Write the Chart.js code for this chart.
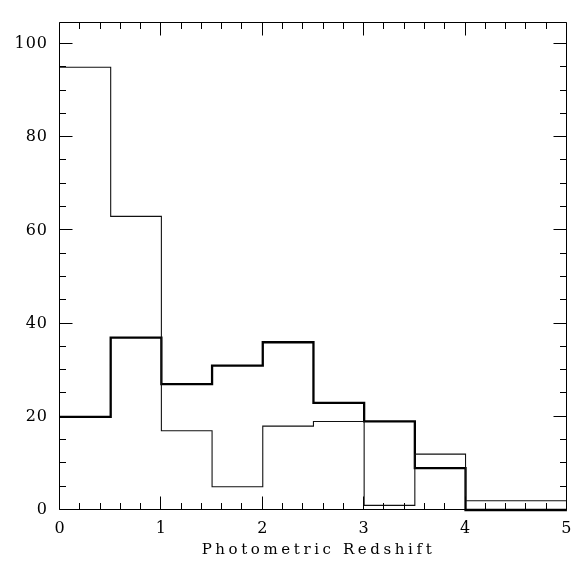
<!DOCTYPE html>
<html><head><meta charset="utf-8">
<script src="https://cdn.jsdelivr.net/npm/chart.js@4"></script>
<style>html,body{margin:0;padding:0;background:#fff}#wrap{width:581px;height:565px}</style>
</head><body><div id="wrap"><canvas id="c" width="581" height="565"></canvas></div>
<script>
const binEdges = [0, 0.5, 1, 1.5, 2, 2.5, 3, 3.5, 4, 4.5, 5];
const thinCounts = [95, 63, 17, 5, 18, 19, 1, 12, 2, 2];
const thickCounts = [20, 37, 27, 31, 36, 23, 19, 9, 0, 0];
const xTickLabels = ['0', '1', '2', '3', '4', '5'];
const yTickLabels = ['0', '20', '40', '60', '80', '100'];
const xAxisTitle = 'Photometric Redshift';

function stepPoints(counts) {
  return binEdges.map((e, i) => ({ x: e, y: counts[Math.min(i, counts.length - 1)] }));
}

const framePlugin = {
  id: 'frame',
  beforeDraw(chart) { chart.ctx.letterSpacing = '1px'; },
  afterDatasetsDraw(chart) {
    const { ctx, chartArea: a, scales: { x, y } } = chart;
    ctx.save();
    ctx.strokeStyle = '#000';
    ctx.lineWidth = 1;
    const L = Math.round(a.left) - 0.5, R = Math.round(a.right) - 0.5;
    const T = Math.round(a.top) + 0.5, B = Math.round(a.bottom) - 0.5;
    ctx.beginPath();
    ctx.rect(L, T, R - L, B - T);
    for (let k = 0; k <= 25; k++) {
      const v = k * 0.2;
      const px = Math.round(x.getPixelForValue(v)) - 0.5;
      const len = (k % 5 === 0) ? 13 : 6.5;
      ctx.moveTo(px, B); ctx.lineTo(px, B - len);
      ctx.moveTo(px, T); ctx.lineTo(px, T + len);
    }
    for (let k = 0; k <= 20; k++) {
      const v = k * 5;
      const py = Math.round(y.getPixelForValue(v)) - 0.5;
      const len = (k % 4 === 0) ? 13 : 6.5;
      ctx.moveTo(L, py); ctx.lineTo(L + len, py);
      ctx.moveTo(R, py); ctx.lineTo(R - len, py);
    }
    ctx.stroke();
    ctx.restore();
  }
};

function wrapTitle(s) {
  if (s._titleWrapped) return;
  const orig = s.drawTitle.bind(s);
  s.drawTitle = function () {
    const c = this.ctx;
    c.save();
    c.letterSpacing = '3.6px';
    c.translate(5, 0);
    orig();
    c.restore();
  };
  s._titleWrapped = true;
}

new Chart(document.getElementById('c'), {
  type: 'line',
  data: {
    datasets: [
      { label: 'thin', data: stepPoints(thinCounts), stepped: true, borderColor: '#111', borderWidth: 1.1, pointRadius: 0, fill: false, clip: 2 },
      { label: 'thick', data: stepPoints(thickCounts), stepped: true, borderColor: '#000', borderWidth: 2.3, pointRadius: 0, fill: false, clip: 2 }
    ]
  },
  options: {
    responsive: false,
    animation: false,
    devicePixelRatio: 1,
    layout: { padding: { top: 3, right: 14, left: 0, bottom: 0 } },
    plugins: { legend: { display: false }, tooltip: { enabled: false } },
    scales: {
      x: {
        type: 'linear', min: 0, max: 5,
        grid: { display: false, drawTicks: false }, border: { display: false },
        ticks: {
          stepSize: 1, padding: 9, color: '#000', maxRotation: 0,
          font: { family: 'DejaVu Serif', size: 16 },
          callback: (v) => { const i = Math.round(v); return Math.abs(v - i) < 1e-6 && xTickLabels[i] !== undefined ? xTickLabels[i] : ''; }
        },
        title: { display: true, text: xAxisTitle, color: '#000', font: { family: 'DejaVu Serif', size: 15 }, padding: { top: 0, bottom: 6 } },
        afterFit: (s) => { s.height = 55; wrapTitle(s); }
      },
      y: {
        type: 'linear', min: 0, max: 104.8,
        grid: { display: false, drawTicks: false }, border: { display: false },
        ticks: {
          stepSize: 20, includeBounds: false, padding: 12, color: '#000',
          font: { family: 'DejaVu Serif', size: 16 },
          callback: (v) => { const i = Math.round(v / 20); return Math.abs(v - i * 20) < 1e-6 && yTickLabels[i] !== undefined ? yTickLabels[i] : ''; }
        },
        afterFit: (s) => { s.width = 60; }
      }
    }
  },
  plugins: [framePlugin]
});
</script>
</body></html>
